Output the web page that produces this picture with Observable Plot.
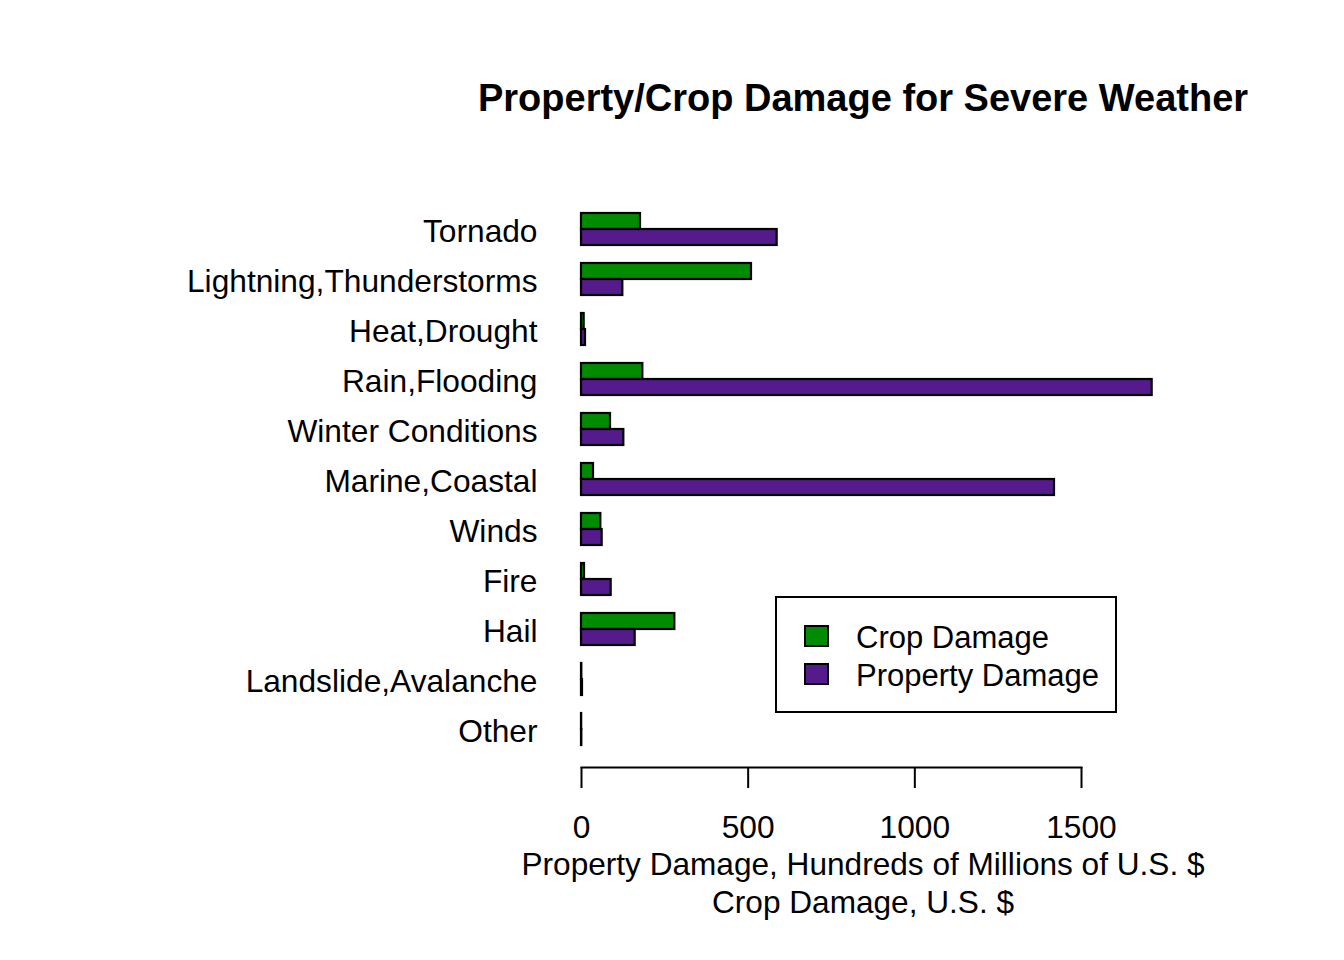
<!DOCTYPE html>
<html><head><meta charset="utf-8">
<script src="https://cdn.jsdelivr.net/npm/d3@7"></script>
<script src="https://cdn.jsdelivr.net/npm/@observablehq/plot@0.6"></script>
<style>
body{margin:0;background:#fff;}
#wrap{position:relative;width:1344px;height:960px;font-family:"Liberation Sans",Arial,sans-serif;color:#000;}
.abs{position:absolute;white-space:nowrap;line-height:1;}
#title{font-weight:bold;font-size:38px;left:863px;top:79px;transform:translateX(-50%);}
.xl{font-size:31.6px;left:863px;transform:translateX(-50%);}
#legend{position:absolute;left:775px;top:596px;width:338px;height:113px;border:2px solid #000;background:#fff;}
.sw{position:absolute;width:21px;height:18px;border:2px solid #000;}
.lt{position:absolute;font-size:31px;line-height:1;white-space:nowrap;}
</style></head><body><div id="wrap"></div>
<script>
const categories = ["Tornado","Lightning,Thunderstorms","Heat,Drought","Rain,Flooding","Winter Conditions","Marine,Coastal","Winds","Fire","Hail","Landslide,Avalanche","Other"];
const cropDamage = [177, 510, 8, 184, 87, 36, 58, 9, 280, 1, 0.5];
const propertyDamage = [587, 124, 12, 1712, 127, 1419, 62, 89, 161, 3, 1];
const seriesNames = ["Crop Damage","Property Damage"];
const seriesColors = ["#008B00","#551A8B"];
const xTicks = [0,500,1000,1500];
const titleText = "Property/Crop Damage for Severe Weather";
const xLabel1 = "Property Damage, Hundreds of Millions of U.S. $";
const xLabel2 = "Crop Damage, U.S. $";

const rows = categories.map((c,i)=>({category:c, crop:cropDamage[i], property:propertyDamage[i]}));

const chart = Plot.plot({
  width:1344, height:960,
  marginLeft:581, marginRight:263, marginTop:191, marginBottom:193,
  style:{fontFamily:'"Liberation Sans",Arial,sans-serif', fontSize:"31.7px", color:"black", background:"white"},
  x:{domain:[0,1500]},
  y:{domain:categories, paddingInner:0.36, paddingOuter:0.44, round:false},
  marks:[
    Plot.barX(rows,{x1:0, x2:"crop", y:"category", fill:seriesColors[0], stroke:"black", strokeWidth:2.2, insetBottom:16, insetLeft:0, insetRight:0}),
    Plot.barX(rows,{x1:0, x2:"property", y:"category", fill:seriesColors[1], stroke:"black", strokeWidth:2.2, insetTop:16, insetLeft:0, insetRight:0}),
    Plot.frame({anchor:"bottom", stroke:"black", strokeWidth:2}),
    Plot.axisX({ticks:xTicks, tickSize:21, tickPadding:27, label:null, tickFormat:d=>String(d), strokeWidth:2}),
    Plot.axisY({tickSize:0, tickPadding:44, label:null, dy:2})
  ]
});
const wrap = document.getElementById("wrap");
wrap.appendChild(chart);
chart.style.position="absolute"; chart.style.left="0"; chart.style.top="0";

function addDiv(cls,id,text,top){const d=document.createElement("div");d.className="abs "+cls;if(id)d.id=id;d.textContent=text;if(top!=null)d.style.top=top+"px";wrap.appendChild(d);return d;}
addDiv("","title",titleText,null);
addDiv("xl",null,xLabel1,849);
addDiv("xl",null,xLabel2,887);

const lg=document.createElement("div");lg.id="legend";wrap.appendChild(lg);
seriesNames.forEach((n,i)=>{
  const s=document.createElement("div");s.className="sw";s.style.left="27px";s.style.top=(27+i*38)+"px";s.style.background=seriesColors[i];lg.appendChild(s);
  const t=document.createElement("div");t.className="lt";t.textContent=n;t.style.left="79px";t.style.top=(24+i*38)+"px";lg.appendChild(t);
});
</script></body></html>
